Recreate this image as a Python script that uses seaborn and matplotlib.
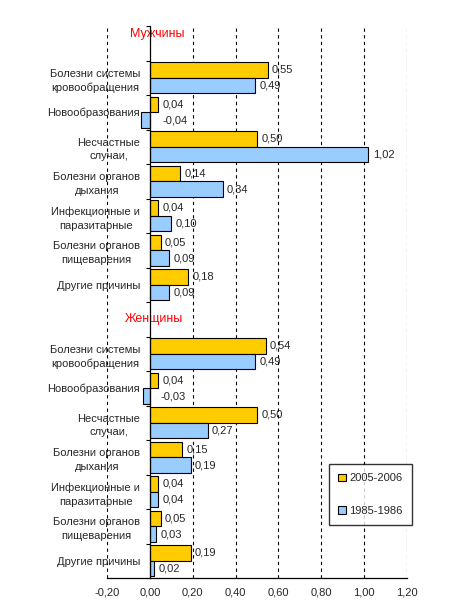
import matplotlib
matplotlib.use("Agg")
import matplotlib.pyplot as plt
from matplotlib.patches import Patch
import seaborn as sns
import pandas as pd
import numpy as np

causes = ["Болезни системы\nкровообращения", "Новообразования", "Несчастные\nслучаи,",
          "Болезни органов\nдыхания", "Инфекционные и\nпаразитарные",
          "Болезни органов\nпищеварения", "Другие причины"]
groups = ["Мужчины", "Женщины"]
periods = ["2005-2006", "1985-1986"]
men_2005 = [0.55, 0.04, 0.50, 0.14, 0.04, 0.05, 0.18]
men_1985 = [0.49, -0.04, 1.02, 0.34, 0.10, 0.09, 0.09]
women_2005 = [0.54, 0.04, 0.50, 0.15, 0.04, 0.05, 0.19]
women_1985 = [0.49, -0.03, 0.27, 0.19, 0.04, 0.03, 0.02]
xticks = [-0.20, 0.00, 0.20, 0.40, 0.60, 0.80, 1.00, 1.20]

colors = ["#FFCC00", "#99CCFF"]

sns.set_style("white")
plt.rcParams["font.family"] = ["Liberation Sans", "DejaVu Sans"]

series = {("Мужчины", "2005-2006"): men_2005, ("Мужчины", "1985-1986"): men_1985,
          ("Женщины", "2005-2006"): women_2005, ("Женщины", "1985-1986"): women_1985}

rows = []
order = []
labels = []
for g in groups:
    order.append(g)
    labels.append("")
    for i, c in enumerate(causes):
        key = f"{g}|{i}"
        order.append(key)
        labels.append(c)
        for p in periods:
            rows.append({"row": key, "period": p, "value": series[(g, p)][i]})
df = pd.DataFrame(rows)

fig = plt.figure(figsize=(4.54, 6.10), dpi=100)
ax = fig.add_axes([107/454, 1 - 578/610, 300/454, 552/610])

sns.barplot(data=df, x="value", y="row", hue="period", order=order, hue_order=periods,
            palette=colors, saturation=1, width=0.9, edgecolor="black", linewidth=0.8,
            orient="h", errorbar=None, ax=ax, zorder=2)
if ax.get_legend() is not None:
    ax.get_legend().remove()

ax.set_xlim(-0.2, 1.2)
ax.set_ylim(len(order) - 0.5, -0.5)
ax.set_xlabel("")
ax.set_ylabel("")

# grid
for xv in xticks:
    if abs(xv) > 1e-9:
        ax.axvline(xv, color="black", linestyle=(0, (3, 3)), linewidth=0.8, zorder=0.5)

# spines
for s in ["top", "right"]:
    ax.spines[s].set_visible(False)
ax.spines["left"].set_position(("data", 0))
ax.spines["left"].set_color("black")
ax.spines["left"].set_linewidth(0.9)
ax.spines["left"].set_zorder(3)
ax.spines["bottom"].set_color("black")
ax.spines["bottom"].set_linewidth(0.9)

ax.set_xticks(xticks)
ax.set_xticklabels([f"{v:.2f}".replace(".", ",") for v in xticks], fontsize=8)
ax.tick_params(axis="x", direction="out", length=4, width=0.8, color="black", pad=3)

ax.set_yticks(range(len(order)))
ax.set_yticklabels(labels, fontsize=8, multialignment="center", linespacing=1.45)
ax.set_yticks(np.arange(-0.5, len(order), 1), minor=True)
ax.tick_params(axis="y", which="major", length=0, pad=7)
ax.tick_params(axis="y", which="minor", direction="out", length=3, width=0.8, color="black", left=True)

# group headers
ax.text(0.035, 0 - 0.26, groups[0], color="red", fontsize=9, ha="center", va="center")
ax.text(0.02, 8, groups[1], color="red", fontsize=9, ha="center", va="center")

# value labels
for cont in ax.containers:
    for bar in cont:
        w = bar.get_width()
        if np.isnan(w):
            continue
        yc = bar.get_y() + bar.get_height() / 2
        ax.text(abs(w) + 0.02, yc, f"{w:.2f}".replace(".", ","), fontsize=8,
                ha="left", va="center", zorder=0.3)

handles = [Patch(facecolor=c, edgecolor="black", linewidth=0.8) for c in colors]
leg = fig.legend(handles, periods, loc="upper left", bbox_to_anchor=(329/454, 1 - 464/610),
                 borderaxespad=0, fontsize=8, frameon=True, fancybox=False,
                 handlelength=0.7, handleheight=0.7, handletextpad=0.25,
                 labelspacing=2.0, borderpad=0.85)
leg.get_frame().set_edgecolor("black")
leg.get_frame().set_linewidth(1.0)

fig.savefig("out.png", dpi=100)
